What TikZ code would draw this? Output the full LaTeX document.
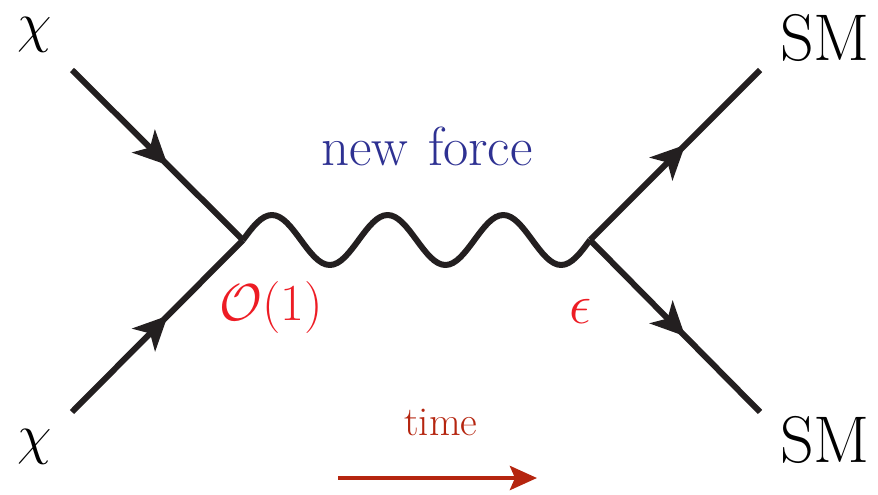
\RequirePackage{fix-cm}
\documentclass[tikz,border=0pt]{standalone}
\usetikzlibrary{arrows.meta,decorations.markings}
\definecolor{linecol}{RGB}{35,31,32}
\definecolor{forceblue}{RGB}{46,49,146}
\definecolor{couplred}{RGB}{237,28,36}
\definecolor{timered}{RGB}{181,37,15}
\tikzset{
  x=1pt,y=-1pt,
  fermion/.style={line width=6pt,draw=linecol,
    postaction={decorate,decoration={markings,
      mark=at position 0.56 with {\arrow{Stealth[length=34pt,width=32pt,inset=9pt,fill=linecol]}}}}},
  boson/.style={line width=6pt,draw=linecol,line join=round},
  lbl/.style={inner sep=0pt,anchor=base},
}
\def\wq{28.92}
\begin{document}
\begin{tikzpicture}
\useasboundingbox (0,0) rectangle (878,495);
\coordinate (v1) at (243,240);
\coordinate (v2) at (590,240);
\coordinate (a) at (72,70);
\coordinate (b) at (72,412);
\coordinate (c) at (760,70);
\coordinate (d) at (760,412);
\coordinate (t1) at (338,478);
\coordinate (t2) at (537,478);

\draw[fermion] (a) -- (v1);
\draw[fermion] (b) -- (v1);
\draw[fermion] (v2) -- (c);
\draw[fermion] (v2) -- (d);
\draw[boson] (v1)
  sin ++(\wq,-25) cos ++(\wq,25) sin ++(\wq,25) cos ++(\wq,-25)
  sin ++(\wq,-25) cos ++(\wq,25) sin ++(\wq,25) cos ++(\wq,-25)
  sin ++(\wq,-25) cos ++(\wq,25) sin ++(\wq,25) cos (v2);

\draw[line width=4.5pt,draw=timered,-{Stealth[length=27pt,width=24pt,inset=5pt,fill=timered]}] (t1) -- (t2);

\node[lbl] (chiA) at (35,42) {\fontsize{56}{66}\selectfont$\chi$};
\node[lbl] (chiB) at (35,453) {\fontsize{56}{66}\selectfont$\chi$};
\node[lbl] (smA) at (825,60) {\fontsize{66}{76}\selectfont SM};
\node[lbl] (smB) at (825,462) {\fontsize{66}{76}\selectfont SM};
\node[lbl,text=forceblue] (force) at (427,165) {\fontsize{55}{65}\selectfont new\hspace{3pt} force};
\node[lbl,text=couplred] (o1) at (271,320) {\fontsize{52}{62}\selectfont$\mathcal{O}(1)$};
\node[lbl,text=couplred] (eps) at (581,323) {\fontsize{56}{66}\selectfont$\epsilon$};
\node[lbl,text=timered] (time) at (441,435) {\fontsize{41}{51}\selectfont time};
\end{tikzpicture}
\end{document}
